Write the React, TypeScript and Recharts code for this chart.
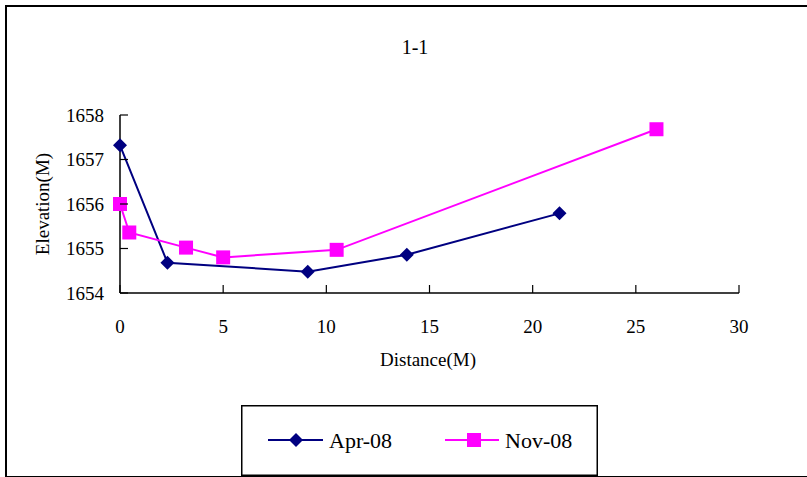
import { Legend, Line, LineChart, XAxis, YAxis } from "recharts";

const aprDistance = [0, 2.3, 9.1, 13.9, 21.3];
const aprElevation = [1657.32, 1654.68, 1654.48, 1654.86, 1655.79];
const novDistance = [0, 0.45, 3.2, 5.0, 10.5, 26.0];
const novElevation = [1656.0, 1655.36, 1655.02, 1654.8, 1654.97, 1657.68];

const xTicks = [0, 5, 10, 15, 20, 25, 30];
const yTicks = [1654, 1655, 1656, 1657, 1658];

const aprData = aprDistance.map((x, i) => ({ x, y: aprElevation[i] }));
const novData = novDistance.map((x, i) => ({ x, y: novElevation[i] }));

const NAVY = "#000080";
const MAGENTA = "#FF00FF";
const FONT = "'Liberation Serif', 'Times New Roman', serif";

function Diamond({ cx, cy, r = 7 }: { cx?: number; cy?: number; r?: number }) {
    if (cx == null || cy == null) return null;
    return <polygon points={`${cx},${cy - r} ${cx + r},${cy} ${cx},${cy + r} ${cx - r},${cy}`} fill={NAVY} />;
}

function Square({ cx, cy, r = 7 }: { cx?: number; cy?: number; r?: number }) {
    if (cx == null || cy == null) return null;
    return <rect x={cx - r} y={cy - r} width={r * 2} height={r * 2} fill={MAGENTA} />;
}

function YTick({ x, y, payload }: any) {
    return (
        <g>
            <line x1={x} x2={x + 8} y1={y} y2={y} stroke="#000" strokeWidth={1.2} />
            <text x={x - 16} y={y} textAnchor="end" dominantBaseline="central" fontFamily={FONT} fontSize={19} fill="#000">
                {payload.value}
            </text>
        </g>
    );
}

function XTick({ x, y, payload }: any) {
    return (
        <g>
            <line x1={x} x2={x} y1={y} y2={y - 8} stroke="#000" strokeWidth={1.2} />
            <text x={x} y={y + 33} textAnchor="middle" dominantBaseline="central" fontFamily={FONT} fontSize={19} fill="#000">
                {payload.value}
            </text>
        </g>
    );
}

function LegendBox() {
    return (
        <svg width={357} height={71} style={{ display: "block" }}>
            <rect x={0.75} y={0.75} width={355.5} height={69.5} fill="#fff" stroke="#000" strokeWidth={1.5} />
            <line x1={27} x2={82} y1={35} y2={35} stroke={NAVY} strokeWidth={2} />
            <Diamond cx={55} cy={35} />
            <text x={88} y={35} dominantBaseline="central" fontSize={22} fontFamily={FONT}>Apr-08</text>
            <line x1={204} x2={258} y1={35} y2={35} stroke={MAGENTA} strokeWidth={2} />
            <Square cx={233} cy={35} />
            <text x={264} y={35} dominantBaseline="central" fontSize={22} fontFamily={FONT}>Nov-08</text>
        </svg>
    );
}

export default function App() {
    return (
        <div style={{ position: "fixed", left: 0, top: 0, width: 807, height: 477, overflow: "hidden", background: "#fff" }}>
            <LineChart width={807} height={477} margin={{ top: 115, right: 68, bottom: 154, left: 60 }}>
                <XAxis
                    type="number"
                    dataKey="x"
                    domain={[0, 30]}
                    ticks={xTicks}
                    height={30}
                    tickSize={0}
                    tickMargin={0}
                    tick={<XTick />}
                    axisLine={{ stroke: "#000", strokeWidth: 1.5 }}
                    allowDuplicatedCategory={false}
                />
                <YAxis
                    type="number"
                    dataKey="y"
                    domain={[1654, 1658]}
                    ticks={yTicks}
                    width={60}
                    tickSize={0}
                    tickMargin={0}
                    tick={<YTick />}
                    axisLine={{ stroke: "#000", strokeWidth: 1.5 }}
                />
                <Line
                    data={aprData}
                    dataKey="y"
                    name="Apr-08"
                    stroke={NAVY}
                    strokeWidth={2}
                    dot={(p: any) => <Diamond key={`a${p.index}`} cx={p.cx} cy={p.cy} />}
                    isAnimationActive={false}
                />
                <Line
                    data={novData}
                    dataKey="y"
                    name="Nov-08"
                    stroke={MAGENTA}
                    strokeWidth={2}
                    dot={(p: any) => <Square key={`n${p.index}`} cx={p.cx} cy={p.cy} />}
                    isAnimationActive={false}
                />
                <Legend
                    layout="horizontal"
                    verticalAlign="middle"
                    align="center"
                    content={() => <LegendBox />}
                    wrapperStyle={{ left: 241, top: 405, width: 357, height: 71 }}
                />
            </LineChart>
            <div style={{ position: "absolute", left: 0, width: 830, top: 36, textAlign: "center", fontFamily: FONT, fontSize: 20 }}>1-1</div>
            <div style={{ position: "absolute", left: 328, width: 200, top: 349, textAlign: "center", fontFamily: FONT, fontSize: 19 }}>Distance(M)</div>
            <div
                style={{
                    position: "absolute",
                    left: 43 - 80,
                    top: 204 - 12,
                    width: 160,
                    height: 24,
                    lineHeight: "24px",
                    textAlign: "center",
                    fontFamily: FONT,
                    fontSize: 19,
                    transform: "rotate(-90deg)",
                }}
            >
                Elevation(M)
            </div>
            <div style={{ position: "absolute", left: 5, top: 5, width: 820, height: 469, border: "2px solid #000", zIndex: 5, pointerEvents: "none" }} />
        </div>
    );
}
